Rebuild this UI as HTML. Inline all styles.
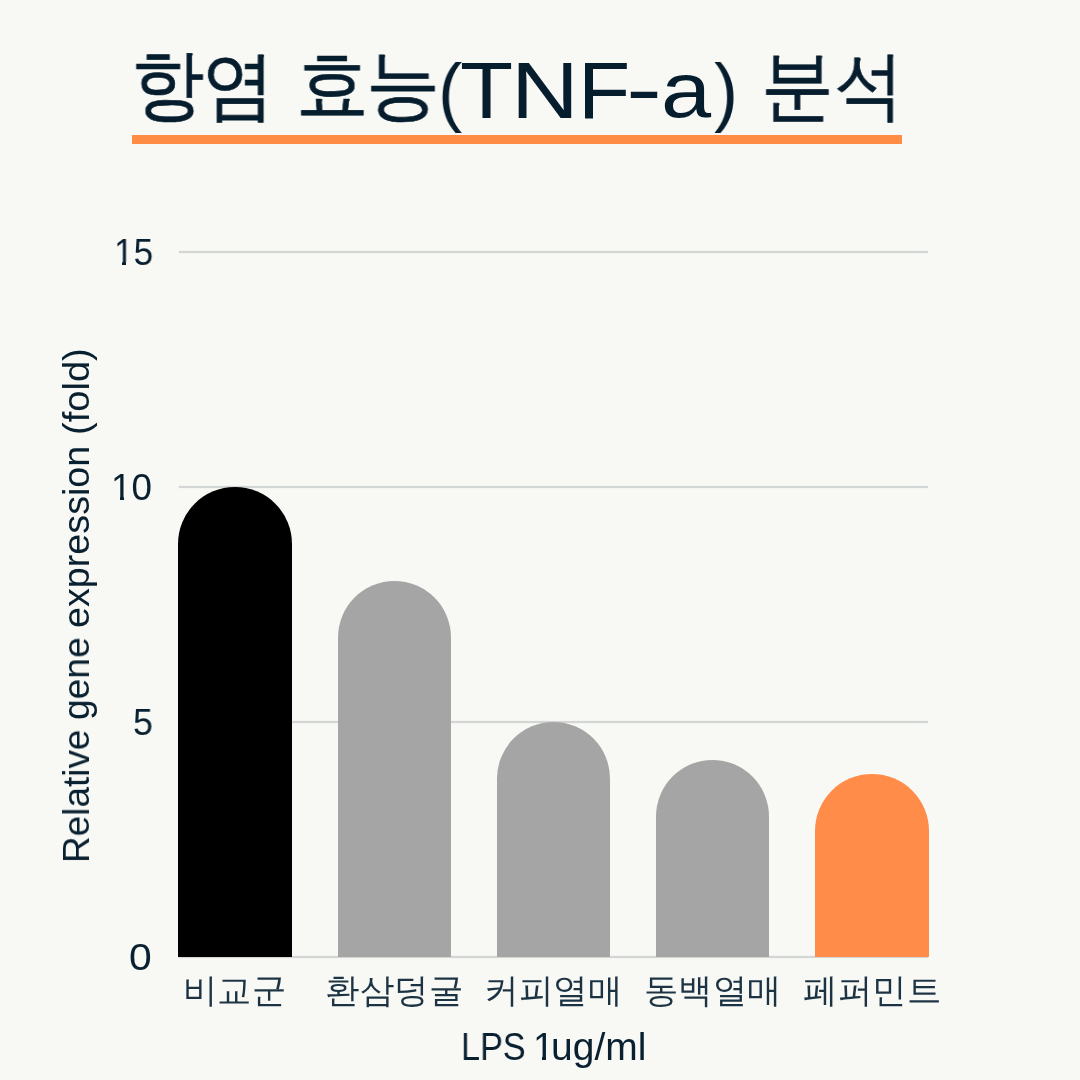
<!DOCTYPE html>
<html><head><meta charset="utf-8">
<style>
html,body{margin:0;padding:0;}
body{width:1080px;height:1080px;background:#f8f8f5;position:relative;overflow:hidden;font-family:"Liberation Sans",sans-serif;}
.g{position:absolute;white-space:nowrap;line-height:1;transform-origin:0 0;will-change:transform;}
#ul{position:absolute;left:131.7px;top:135.3px;width:770.7px;height:8.6px;background:#ff8c45;}
.grid{position:absolute;left:178.7px;width:749.3px;height:2px;background:#d2d7d5;box-shadow:0 0 1px rgba(210,215,213,0.9);}
.cv{position:absolute;background:#f8f8f5;}
.bar{position:absolute;width:113.8px;bottom:123px;border-radius:56.9px 56.9px 0 0;}
</style></head><body>
<div id="ul"></div>
<div class="grid" style="top:251px"></div>
<div class="grid" style="top:485.8px"></div>
<div class="grid" style="top:721px"></div>
<div class="grid" style="top:956px"></div>
<div class="bar" style="left:178.4px;top:487px;background:#000000"></div>
<div class="bar" style="left:337.5px;top:581.2px;background:#a5a5a5"></div>
<div class="bar" style="left:496.6px;top:722px;background:#a5a5a5"></div>
<div class="bar" style="left:655.7px;top:760px;background:#a5a5a5"></div>
<div class="bar" style="left:814.8px;top:774px;background:#ff8c48"></div>
<div class="g" style="left:130.51px;top:47.12px;font-size:76.65px;transform:scaleX(0.9553);color:#061d2e;-webkit-text-stroke:0.6px #061d2e">항</div>
<div class="g" style="left:201.63px;top:47.90px;font-size:74.78px;transform:scaleX(0.9702);color:#061d2e;-webkit-text-stroke:0.6px #061d2e">염</div>
<div class="g" style="left:296.31px;top:46.04px;font-size:77.40px;transform:scaleX(0.9454);color:#061d2e;-webkit-text-stroke:0.6px #061d2e">효</div>
<div class="g" style="left:365.57px;top:47.28px;font-size:76.69px;transform:scaleX(0.9619);color:#061d2e;-webkit-text-stroke:0.6px #061d2e">능</div>
<div class="g" style="left:437.55px;top:53.02px;font-size:76.47px;transform:scaleX(0.9475);color:#061d2e">(</div>
<div class="g" style="left:460.36px;top:49.96px;font-size:80.29px;transform:scaleX(1.0816);color:#061d2e">T</div>
<div class="g" style="left:511.29px;top:49.96px;font-size:80.29px;transform:scaleX(1.1699);color:#061d2e">N</div>
<div class="g" style="left:577.56px;top:49.96px;font-size:80.29px;transform:scaleX(1.0650);color:#061d2e">F</div>
<div class="g" style="left:626.23px;top:48.18px;font-size:80.60px;transform:scaleX(1.3420);color:#061d2e">-</div>
<div class="g" style="left:660.80px;top:51.41px;font-size:78.00px;transform:scaleX(1.1551);color:#061d2e">a</div>
<div class="g" style="left:713.64px;top:53.47px;font-size:76.04px;transform:scaleX(0.9429);color:#061d2e">)</div>
<div class="g" style="left:761.16px;top:48.48px;font-size:76.71px;transform:scaleX(0.9463);color:#061d2e;-webkit-text-stroke:0.6px #061d2e">분</div>
<div class="g" style="left:834.11px;top:48.45px;font-size:75.22px;transform:scaleX(0.9273);color:#061d2e;-webkit-text-stroke:0.6px #061d2e">석</div>
<div class="g" style="left:114.06px;top:235.22px;font-size:36.80px;transform:scaleX(0.9559);color:#08202f">15</div>
<div class="g" style="left:111.46px;top:470.25px;font-size:36.80px;transform:scaleX(0.9918);color:#08202f">10</div>
<div class="g" style="left:132.67px;top:705.22px;font-size:36.80px;transform:scaleX(0.9725);color:#08202f">5</div>
<div class="g" style="left:129.47px;top:940.15px;font-size:36.80px;transform:scaleX(1.1096);color:#08202f">0</div>
<div class="g" style="left:183.41px;top:973.24px;font-size:34.30px;transform:scaleX(1.0096);color:#1c3343">비교군</div>
<div class="g" style="left:325.34px;top:973.24px;font-size:34.30px;transform:scaleX(1.0151);color:#1c3343">환삼덩굴</div>
<div class="g" style="left:484.45px;top:973.24px;font-size:34.30px;transform:scaleX(1.0208);color:#1c3343">커피열매</div>
<div class="g" style="left:643.70px;top:973.24px;font-size:34.30px;transform:scaleX(1.0106);color:#1c3343">동백열매</div>
<div class="g" style="left:802.78px;top:973.24px;font-size:34.30px;transform:scaleX(1.0148);color:#1c3343">페퍼민트</div>
<div class="g" style="left:460.56px;top:1028.39px;font-size:38.12px;transform:scaleX(0.8978);color:#08202f">LPS</div>
<div class="g" style="left:532.85px;top:1028.39px;font-size:38.12px;transform:scaleX(1.0000);color:#08202f">1</div>
<div class="g" style="left:551.16px;top:1028.39px;font-size:38.12px;transform:scaleX(1.0234);color:#08202f">ug/ml</div>
<div class="g" style="left:58.10px;top:862.95px;font-size:37.41px;transform:rotate(-90deg) scaleX(0.9873);color:#08202f">Relative</div>
<div class="g" style="left:58.10px;top:719.99px;font-size:37.41px;transform:rotate(-90deg) scaleX(0.9943);color:#08202f">gene</div>
<div class="g" style="left:58.10px;top:627.61px;font-size:37.41px;transform:rotate(-90deg) scaleX(1.0076);color:#08202f">expression</div>
<div class="g" style="left:58.10px;top:435.09px;font-size:37.41px;transform:rotate(-90deg) scaleX(1.0184);color:#08202f">(fold)</div>
<div class="cv" style="left:114px;top:261.6px;width:8.2px;height:4px"></div>
<div class="cv" style="left:126px;top:261.6px;width:7px;height:4px"></div>
<div class="cv" style="left:112px;top:496.6px;width:8.2px;height:4px"></div>
<div class="cv" style="left:124px;top:496.6px;width:7px;height:4px"></div>
<div class="cv" style="left:535px;top:1056.6px;width:7.4px;height:4px"></div>
<div class="cv" style="left:546px;top:1056.6px;width:6.5px;height:4px"></div>
</body></html>
